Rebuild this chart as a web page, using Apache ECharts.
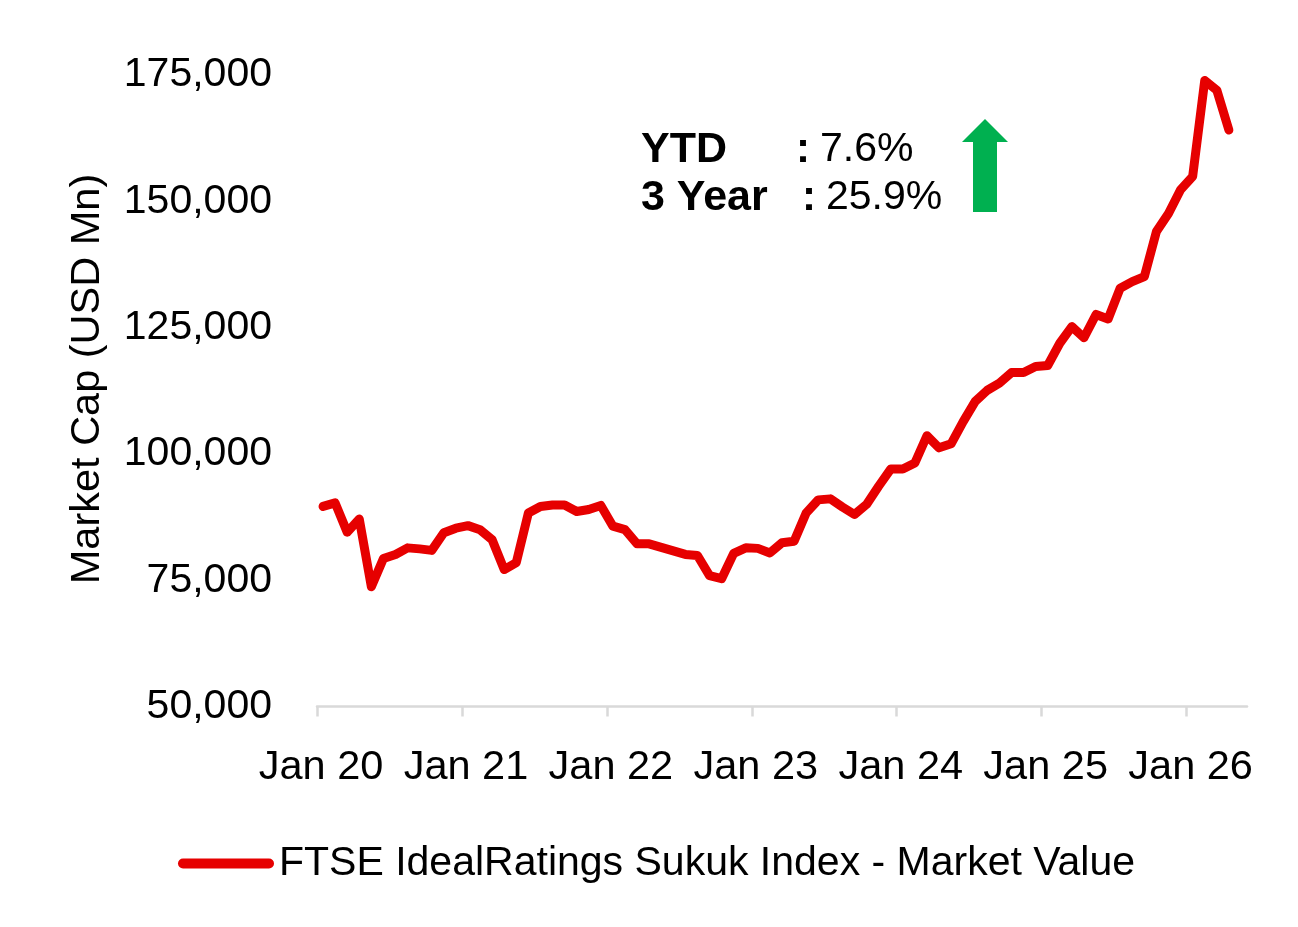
<!DOCTYPE html>
<html>
<head>
<meta charset="utf-8">
<script src="https://cdn.jsdelivr.net/npm/echarts@6/dist/echarts.min.js"></script>
<style>
  html, body { margin: 0; padding: 0; background: #ffffff; }
  #chart { width: 1298px; height: 927px; }
</style>
</head>
<body>
<div id="chart"></div>
<script>
// ---- Data (USD Mn, monthly from Jan 2020) ----
const startYear = 2020;
const marketValue = [
  89600, 90300, 84500, 87100, 73700, 79300, 80100, 81400, 81200, 80900, 84400, 85300,
  85800, 85000, 83000, 77100, 78500, 88300, 89600, 89900, 89900, 88600, 89000, 89800,
  85700, 85000, 82200, 82200, 81500, 80800, 80100, 79900, 75900, 75300, 80300, 81400,
  81300, 80400, 82400, 82700, 88300, 90900, 91100, 89500, 88000, 90000, 93600, 97000,
  97000, 98200, 103600, 101200, 102000, 106400, 110400, 112600, 114000, 116100, 116100, 117300,
  117500, 121900, 125200, 123000, 127600, 126700, 132800, 134100, 135100, 144000, 147600, 152300,
  154900, 173900, 172000, 164100
];
const xTickLabels = ['Jan 20', 'Jan 21', 'Jan 22', 'Jan 23', 'Jan 24', 'Jan 25', 'Jan 26'];
const yTicks = [50000, 75000, 100000, 125000, 150000, 175000];
const seriesName = 'FTSE IdealRatings Sukuk Index - Market Value';
const axisTitle = 'Market Cap (USD Mn)';
const statLabels = ['YTD', '3 Year'];
const statValues = ['7.6%', '25.9%'];

// months on the axis (Jan 2020 .. May 2026), each point centred in its month slot
const axisMonths = 77;
const points = marketValue.map((v, i) => [i + 0.5, v]);
const tickPositions = xTickLabels.map((_, i) => i * 12);

const FONT = '"Liberation Sans", Arial, sans-serif';
const chart = echarts.init(document.getElementById('chart'), null, { renderer: 'canvas' });

chart.setOption({
  animation: false,
  backgroundColor: '#ffffff',
  grid: { left: 317, right: 51, top: 75, bottom: 220.5, containLabel: false },
  xAxis: {
    type: 'value',
    min: 0,
    max: axisMonths,
    axisLine: { show: true, lineStyle: { color: '#D9D9D9', width: 2.5 } },
    axisTick: { show: true, customValues: tickPositions, length: 10, lineStyle: { color: '#D9D9D9', width: 2.5 } },
    axisLabel: {
      customValues: tickPositions,
      formatter: v => xTickLabels[Math.round(v / 12)] || '',
      fontFamily: FONT, fontSize: 41.5, color: '#000000', margin: 40,
      padding: [0, 0, 0, 8]
    },
    splitLine: { show: false }
  },
  yAxis: {
    type: 'value',
    min: yTicks[0],
    max: yTicks[yTicks.length - 1],
    interval: 25000,
    axisLine: { show: false },
    axisTick: { show: false },
    splitLine: { show: false },
    axisLabel: {
      formatter: v => v.toLocaleString('en-US'),
      fontFamily: FONT, fontSize: 41, color: '#000000', margin: 45,
      padding: [3, 0, 0, 0]
    }
  },
  legend: {
    show: true,
    left: 173,
    top: 838,
    itemWidth: 96,
    itemHeight: 10,
    icon: 'path://M5,0 L91,0 A5,5 0 0 1 91,10 L5,10 A5,5 0 0 1 5,0 Z',
    textStyle: { fontFamily: FONT, fontSize: 41, color: '#000000' },
    data: [seriesName]
  },
  series: [{
    name: seriesName,
    type: 'line',
    data: points,
    showSymbol: false,
    symbol: 'none',
    lineStyle: { color: '#E60000', width: 9, cap: 'round', join: 'round' },
    itemStyle: { color: '#E60000' }
  }],
  graphic: [
    {
      type: 'text', x: 88, y: 379, rotation: Math.PI / 2,
      style: { text: axisTitle, fontFamily: FONT, fontSize: 41.5, fill: '#000000', align: 'center', verticalAlign: 'middle' }
    },
    {
      type: 'text', x: 641, y: 150,
      style: { text: statLabels[0], fontFamily: FONT, fontSize: 43, fontWeight: 'bold', fill: '#000000', align: 'left', verticalAlign: 'middle' }
    },
    {
      type: 'text', x: 796, y: 150,
      style: { text: ':', fontFamily: FONT, fontSize: 42, fontWeight: 'bold', fill: '#000000', align: 'left', verticalAlign: 'middle' }
    },
    {
      type: 'text', x: 820, y: 150,
      style: { text: statValues[0], fontFamily: FONT, fontSize: 41, fill: '#000000', align: 'left', verticalAlign: 'middle' }
    },
    {
      type: 'text', x: 641, y: 198,
      style: { text: statLabels[1], fontFamily: FONT, fontSize: 43, fontWeight: 'bold', fill: '#000000', align: 'left', verticalAlign: 'middle' }
    },
    {
      type: 'text', x: 802, y: 198,
      style: { text: ':', fontFamily: FONT, fontSize: 42, fontWeight: 'bold', fill: '#000000', align: 'left', verticalAlign: 'middle' }
    },
    {
      type: 'text', x: 826, y: 198,
      style: { text: statValues[1], fontFamily: FONT, fontSize: 41, fill: '#000000', align: 'left', verticalAlign: 'middle' }
    },
    {
      type: 'polygon',
      shape: { points: [[985, 119], [1008, 142], [997, 142], [997, 212], [973, 212], [973, 142], [962, 142]] },
      style: { fill: '#00B050' }
    }
  ]
});
</script>
</body>
</html>
